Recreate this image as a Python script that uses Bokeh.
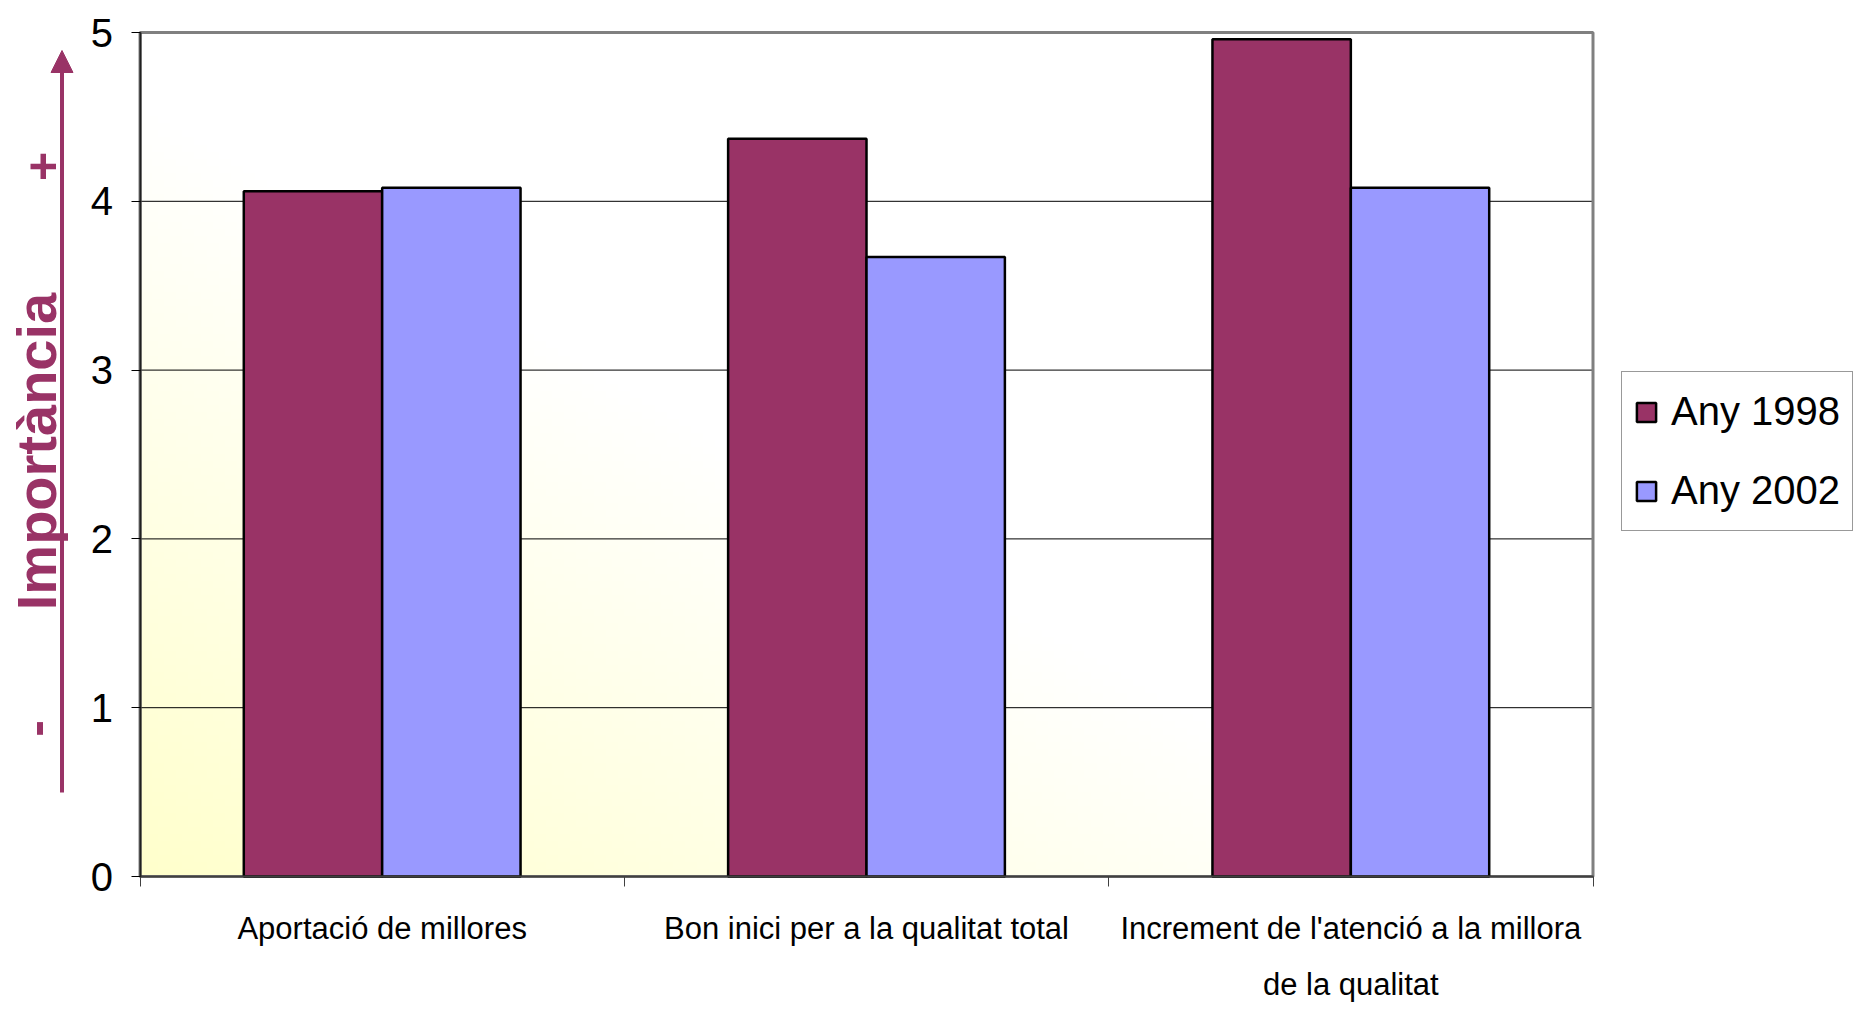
import numpy as np
from bokeh.plotting import figure
from bokeh.models import (Range1d, FixedTicker, Legend, LegendItem, ColumnDataSource,
                          Arrow, NormalHead, Label)
from bokeh.embed import file_html
from bokeh.resources import INLINE

# ---------------- data ----------------
categories = ["Aportació de millores",
              "Bon inici per a la qualitat total",
              "Increment de l'atenció a la millora\nde la qualitat"]
series_names = ["Any 1998", "Any 2002"]
values_1998 = [4.06, 4.37, 4.96]
values_2002 = [4.08, 3.67, 4.08]
y_ticks = [0, 1, 2, 3, 4, 5]
axis_title = "Importància"

COL_98 = "#993366"
COL_02 = "#9999FF"
FONT = "Liberation Sans"

n = len(categories)
ymax = max(y_ticks)

# layout (pixels); the whole canvas is the frame, axes are drawn at x=0 / y=0
FIG_W, FIG_H = 1854, 1010
PLOT_LEFT = 139.5            # page x of category-axis start
PLOT_W = 1453                # width of the category area
PLOT_TOP = 32                # page y of value 5
PLOT_H = 844                 # height of the value area
px_x = PLOT_W / n
px_y = PLOT_H / ymax
x_lo = -PLOT_LEFT / px_x
x_hi = (FIG_W - PLOT_LEFT) / px_x
y_hi = ymax + PLOT_TOP / px_y
y_lo = -(FIG_H - PLOT_TOP - PLOT_H) / px_y

p = figure(width=FIG_W, height=FIG_H,
           x_range=Range1d(x_lo, x_hi), y_range=Range1d(y_lo, y_hi),
           output_backend="svg", toolbar_location=None, min_border=0)
p.background_fill_color = "white"
p.border_fill_color = "white"
p.outline_line_color = None

# gradient background of the plot area (light yellow bottom-left -> white top-right)
H, W = 120, 240
u = np.linspace(0, 1, W)[None, :]
v = np.linspace(0, 1, H)[:, None]
t = np.clip((u + v) * 1.1, 0, 1)
g = (204 + (255 - 204) * t).astype(np.uint32)
img = np.empty((H, W), dtype=np.uint32)
view = img.view(dtype=np.uint8).reshape((H, W, 4))
view[:, :, 0] = 255
view[:, :, 1] = 255
view[:, :, 2] = g
view[:, :, 3] = 255
p.image_rgba(image=[img], x=0, y=0, dw=n, dh=ymax, level="image")

# horizontal grid lines across the plot area only
inner = y_ticks[1:-1]
p.segment(x0=[0] * len(inner), x1=[n] * len(inner), y0=inner, y1=inner,
          line_color="black", line_width=1, level="underlay")
# plot-area border (grey)
p.quad(left=[0], right=[n], bottom=[0], top=[ymax], fill_color=None,
       line_color="#808080", line_width=3)

xs = np.arange(n) + 0.5
bar_w = 1 / 3.5
src98 = ColumnDataSource(dict(x=xs - bar_w / 2, top=values_1998))
src02 = ColumnDataSource(dict(x=xs + bar_w / 2, top=values_2002))
r1 = p.vbar(x="x", top="top", bottom=0, width=bar_w, source=src98,
            fill_color=COL_98, line_color="black", line_width=2.5)
r2 = p.vbar(x="x", top="top", bottom=0, width=bar_w, source=src02,
            fill_color=COL_02, line_color="black", line_width=2.5)

# x axis (at y = 0)
p.xaxis.fixed_location = 0
p.xaxis.bounds = (0, n)
p.xaxis.ticker = FixedTicker(ticks=list(xs), minor_ticks=list(range(n + 1)))
p.xaxis.major_label_overrides = {float(x): c for x, c in zip(xs, categories)}
p.xaxis.major_tick_out = 0
p.xaxis.major_tick_in = 0
p.xaxis.minor_tick_out = 10
p.xaxis.minor_tick_in = 0
p.xaxis.minor_tick_line_color = "#404040"
p.xaxis.axis_line_color = "#404040"
p.xaxis.axis_line_width = 2
p.xaxis.major_label_text_font = FONT
p.xaxis.major_label_text_font_size = "31px"
p.xaxis.major_label_text_color = "black"
p.xaxis.major_label_text_line_height = 1.6
p.xaxis.major_label_standoff = 24

# y axis (at x = 0)
p.yaxis.fixed_location = 0
p.yaxis.bounds = (0, ymax)
p.yaxis.ticker = FixedTicker(ticks=y_ticks)
p.yaxis.major_tick_out = 9
p.yaxis.major_tick_in = 0
p.yaxis.minor_tick_out = 0
p.yaxis.minor_tick_in = 0
p.yaxis.major_tick_line_color = "black"
p.yaxis.axis_line_color = "#202020"
p.yaxis.axis_line_width = 2
p.yaxis.major_label_text_font = FONT
p.yaxis.major_label_text_font_size = "40px"
p.yaxis.major_label_text_color = "black"
p.yaxis.major_label_standoff = 18

p.xgrid.visible = False
p.ygrid.visible = False

# axis title with arrow (left of the value axis)
def dx(page_x):
    return (page_x - PLOT_LEFT) / px_x

def dy(page_y):
    return (PLOT_TOP + PLOT_H - page_y) / px_y

p.add_layout(Label(x=dx(36), y=dy(451), text=axis_title,
                   angle=np.pi / 2, text_align="center", text_baseline="alphabetic",
                   text_font=FONT, text_font_style="bold", text_font_size="56px",
                   text_color=COL_98))
p.add_layout(Label(x=dx(42), y=dy(166), text="+",
                   angle=np.pi / 2, text_align="center", text_baseline="middle",
                   text_font=FONT, text_font_style="bold", text_font_size="50px",
                   text_color=COL_98))
p.add_layout(Label(x=dx(35), y=dy(728), text="-",
                   angle=np.pi / 2, text_align="center", text_baseline="middle",
                   text_font=FONT, text_font_style="bold", text_font_size="50px",
                   text_color=COL_98))
p.add_layout(Arrow(end=NormalHead(size=22, fill_color=COL_98, line_color=COL_98),
                   x_start=dx(61.5), y_start=dy(792), x_end=dx(61.5), y_end=dy(50),
                   line_color=COL_98, line_width=4))

legend = Legend(items=[LegendItem(label=series_names[0], renderers=[r1]),
                       LegendItem(label=series_names[1], renderers=[r2])],
                location=(1621, FIG_H - 531), margin=0, padding=12, spacing=24,
                glyph_width=24, glyph_height=24, label_standoff=13, label_height=55,
                label_text_font=FONT, label_text_font_size="40px",
                label_text_color="black",
                border_line_color="#333333", border_line_width=1.5,
                background_fill_color="white", background_fill_alpha=1)
p.add_layout(legend, "center")

open("out.html", "w").write(file_html(p, INLINE))
